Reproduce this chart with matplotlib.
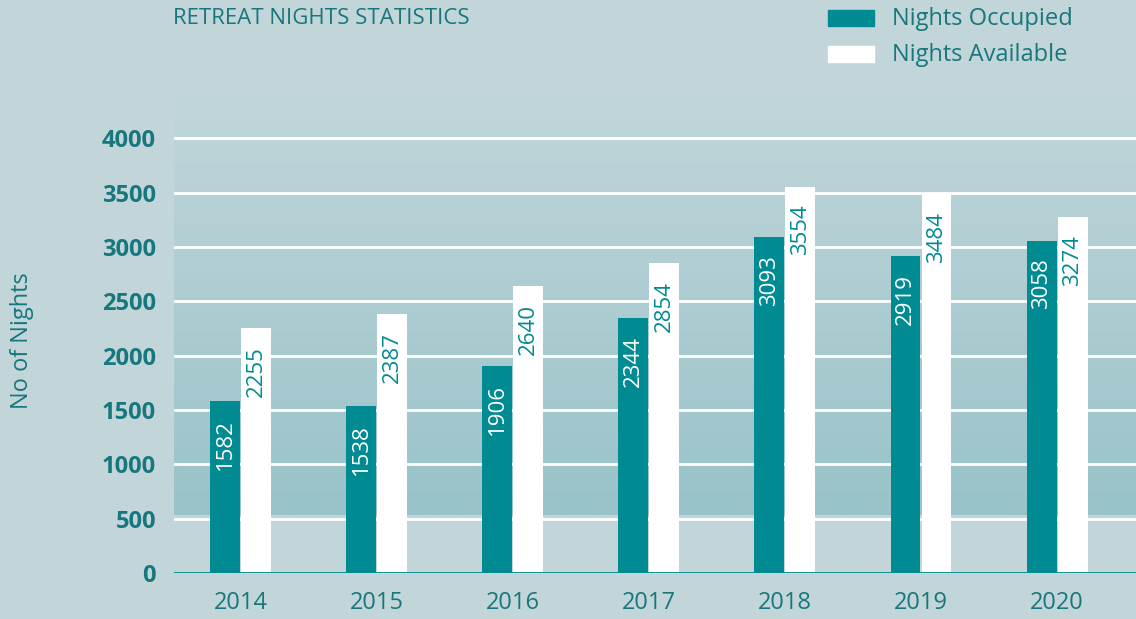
import matplotlib.pyplot as plt
import numpy as np
from matplotlib.patches import Rectangle
from matplotlib.colors import LinearSegmentedColormap

# data
years = ['2014', '2015', '2016', '2017', '2018', '2019', '2020']
occupied = [1582, 1538, 1906, 2344, 3093, 2919, 3058]
available = [2255, 2387, 2640, 2854, 3554, 3484, 3274]

bg = '#c2d6da'
teal = '#008a91'
text_teal = '#17777d'

plt.rcParams['font.family'] = ['Open Sans', 'DejaVu Sans']

fig = plt.figure(figsize=(11.36, 6.19), dpi=100, facecolor=bg)
W, H = 1136, 619
ax = fig.add_axes([174 / W, 46 / H, (W - 174) / W, (573 - 97) / H])
ax.set_facecolor(bg)

x = np.arange(len(years))
ax.set_xlim(-0.49, 6.58)
ax.set_ylim(0, 4380)

# gradient band behind the grid (light at top, darker at bottom)
cmap = LinearSegmentedColormap.from_list('band', ['#c1d6da', '#98c3c9'])
grad = np.linspace(0, 1, 256).reshape(-1, 1)
ax.imshow(grad, cmap=cmap, aspect='auto', extent=[-0.49, 6.58, 535, 4380],
          origin='upper', zorder=0)

for v in range(500, 4001, 500):
    ax.axhline(v, color='white', lw=2, zorder=1)
ax.axhline(0, color=teal, lw=2, zorder=3)

w = 0.22
ax.bar(x - 0.114, occupied, width=w, color=teal, zorder=2)
ax.bar(x + 0.114, available, width=w, color='white', zorder=2)

for xi, v in zip(x, occupied):
    ax.annotate(str(v), (xi - 0.114, v), xytext=(0, -13), textcoords='offset points',
                rotation=90, ha='center', va='top', color='white', fontsize=16)
for xi, v in zip(x, available):
    ax.annotate(str(v), (xi + 0.114, v), xytext=(0, -13), textcoords='offset points',
                rotation=90, ha='center', va='top', color=teal, fontsize=16)

ax.set_yticks(range(0, 4001, 500))
ax.set_yticklabels([str(v) for v in range(0, 4001, 500)], fontweight='bold',
                   color=text_teal, fontsize=17)
ax.set_xticks(x)
ax.set_xticklabels(years, color=text_teal, fontsize=17)
ax.tick_params(axis='y', length=0, pad=13)
ax.tick_params(axis='x', length=0, pad=13)
for s in ax.spines.values():
    s.set_visible(False)

fig.text(22 / W, 1 - 341 / H, 'No of Nights', rotation=90, ha='center', va='center',
         color=text_teal, fontsize=17)
fig.text(173 / W, 1 - 19 / H, 'RETREAT NIGHTS STATISTICS', ha='left', va='center',
         color=text_teal, fontsize=16)

# legend
fig.add_artist(Rectangle((828 / W, 1 - 26 / H), 46 / W, 16 / H, color=teal,
                         transform=fig.transFigure))
fig.add_artist(Rectangle((828 / W, 1 - 62 / H), 46 / W, 16 / H, color='white',
                         transform=fig.transFigure))
fig.text(892 / W, 1 - 19 / H, 'Nights Occupied', ha='left', va='center',
         color=text_teal, fontsize=17)
fig.text(892 / W, 1 - 55 / H, 'Nights Available', ha='left', va='center',
         color=text_teal, fontsize=17)

fig.savefig('out.png', dpi=100, facecolor=bg)
